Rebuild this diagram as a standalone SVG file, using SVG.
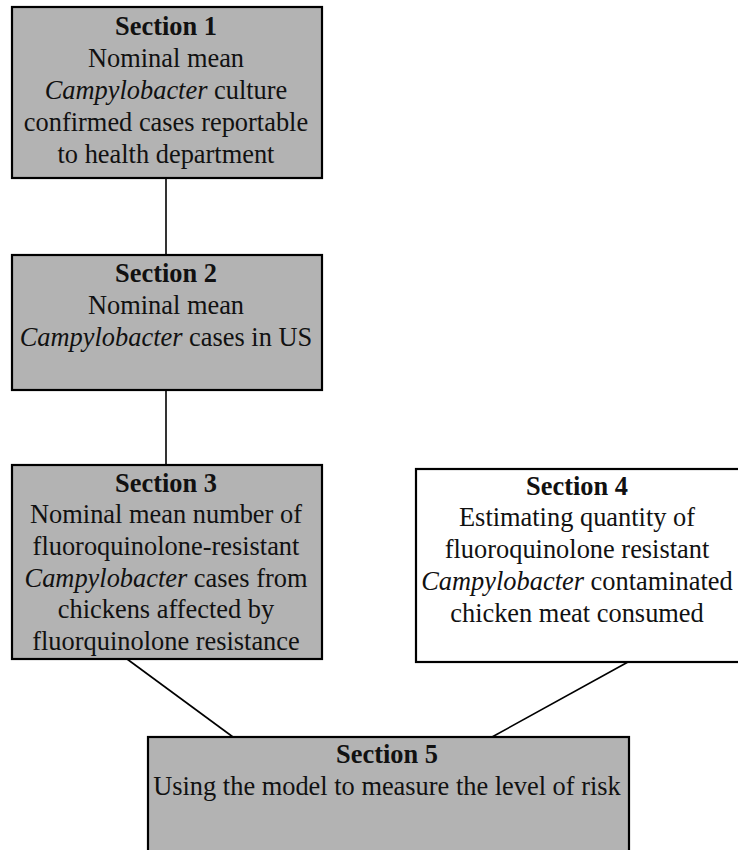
<svg xmlns="http://www.w3.org/2000/svg" width="738" height="850" viewBox="0 0 738 850">
<style>
.box{stroke:#000;stroke-width:2.2}
.gray{fill:#b3b3b3}
.white{fill:#fff}
text{font-family:"Liberation Serif","Times New Roman",serif;font-size:26.4px;fill:#111;text-anchor:middle}
.h{font-weight:bold}
.i{font-style:italic}
.conn line{stroke:#000;stroke-width:1.6}
</style>
<rect width="738" height="850" fill="#fff"/>
<g class="conn" id="connectors">
<line x1="166" y1="178" x2="166" y2="255"/>
<line x1="166" y1="390" x2="166" y2="465"/>
<line x1="127" y1="659" x2="233" y2="737"/>
<line x1="628" y1="662" x2="492" y2="737"/>
</g>
<g id="section1">
<rect class="box gray" x="12" y="7" width="310" height="171"/>
<text x="166" y="35" class="h">Section 1</text>
<text x="166" y="67">Nominal mean</text>
<text x="166" y="99"><tspan class="i">Campylobacter</tspan> culture</text>
<text x="166" y="131">confirmed cases reportable</text>
<text x="166" y="163">to health department</text>
</g>
<g id="section2">
<rect class="box gray" x="12" y="255" width="310" height="135"/>
<text x="166" y="282" class="h">Section 2</text>
<text x="166" y="314">Nominal mean</text>
<text x="166" y="346"><tspan class="i">Campylobacter</tspan> cases in US</text>
</g>
<g id="section3">
<rect class="box gray" x="12" y="465" width="310" height="194"/>
<text x="166" y="492" class="h">Section 3</text>
<text x="166" y="523">Nominal mean number of</text>
<text x="166" y="555">fluoroquinolone-resistant</text>
<text x="166" y="587"><tspan class="i">Campylobacter</tspan> cases from</text>
<text x="166" y="618">chickens affected by</text>
<text x="166" y="650">fluorquinolone resistance</text>
</g>
<g id="section4">
<rect class="box white" x="416" y="469" width="324" height="193"/>
<text x="577" y="495" class="h">Section 4</text>
<text x="577" y="526">Estimating quantity of</text>
<text x="577" y="558">fluoroquinolone resistant</text>
<text x="577" y="590"><tspan class="i">Campylobacter</tspan> contaminated</text>
<text x="577" y="622">chicken meat consumed</text>
</g>
<g id="section5">
<rect class="box gray" x="148" y="737" width="481" height="130"/>
<text x="387" y="763" class="h">Section 5</text>
<text x="387" y="795">Using the model to measure the level of risk</text>
</g>
</svg>
